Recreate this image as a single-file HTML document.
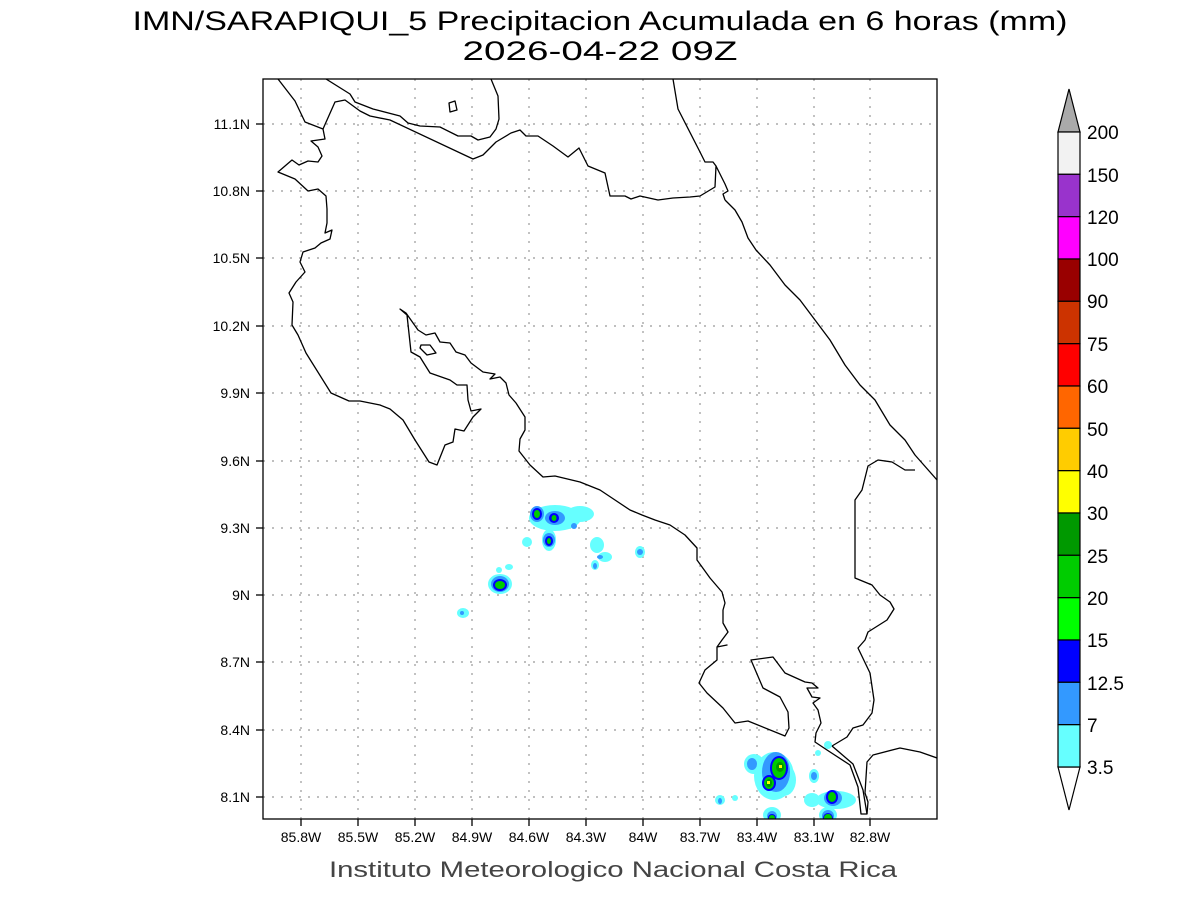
<!DOCTYPE html>
<html><head><meta charset="utf-8"><style>
html,body{margin:0;padding:0;background:#fff;}
svg{display:block;font-family:"Liberation Sans",sans-serif;}
</style></head><body>
<svg width="1200" height="900" viewBox="0 0 1200 900" xmlns="http://www.w3.org/2000/svg">
<rect width="1200" height="900" fill="#fff"/>
<text x="600" y="30" text-anchor="middle" font-size="27" fill="#000" textLength="935" lengthAdjust="spacingAndGlyphs">IMN/SARAPIQUI_5 Precipitacion Acumulada en 6 horas (mm)</text>
<text x="600" y="60" text-anchor="middle" font-size="27" fill="#000" textLength="275" lengthAdjust="spacingAndGlyphs">2026-04-22 09Z</text>
<clipPath id="c"><rect x="263" y="79" width="674" height="740"/></clipPath>
<g clip-path="url(#c)">
<g stroke="#999" stroke-width="1.2" stroke-dasharray="2,7">
<line x1="301" y1="79" x2="301" y2="819"/><line x1="358" y1="79" x2="358" y2="819"/><line x1="415" y1="79" x2="415" y2="819"/><line x1="472" y1="79" x2="472" y2="819"/><line x1="529" y1="79" x2="529" y2="819"/><line x1="586" y1="79" x2="586" y2="819"/><line x1="643" y1="79" x2="643" y2="819"/><line x1="700" y1="79" x2="700" y2="819"/><line x1="757" y1="79" x2="757" y2="819"/><line x1="814" y1="79" x2="814" y2="819"/><line x1="870" y1="79" x2="870" y2="819"/>
<line x1="263" y1="124" x2="937" y2="124"/><line x1="263" y1="191" x2="937" y2="191"/><line x1="263" y1="258" x2="937" y2="258"/><line x1="263" y1="326" x2="937" y2="326"/><line x1="263" y1="393" x2="937" y2="393"/><line x1="263" y1="461" x2="937" y2="461"/><line x1="263" y1="528" x2="937" y2="528"/><line x1="263" y1="595" x2="937" y2="595"/><line x1="263" y1="662" x2="937" y2="662"/><line x1="263" y1="730" x2="937" y2="730"/><line x1="263" y1="797" x2="937" y2="797"/>
</g>
<g fill="#66ffff">
<ellipse cx="555" cy="518" rx="26" ry="13"/><ellipse cx="580" cy="514" rx="14" ry="8"/><ellipse cx="549" cy="540" rx="7" ry="11"/><ellipse cx="527" cy="542" rx="5" ry="5"/>
<ellipse cx="597" cy="545" rx="7" ry="8"/><ellipse cx="605" cy="557" rx="7" ry="5"/><ellipse cx="595" cy="565" rx="4" ry="5"/><ellipse cx="640" cy="552" rx="5" ry="6"/>
<ellipse cx="500" cy="584" rx="12" ry="10"/><ellipse cx="509" cy="567" rx="4" ry="3"/><ellipse cx="499" cy="570" rx="3" ry="3"/><ellipse cx="463" cy="613" rx="6" ry="5"/>
<ellipse cx="774" cy="776" rx="20" ry="24"/><ellipse cx="754" cy="764" rx="10" ry="10"/><ellipse cx="814" cy="776" rx="5" ry="7"/><ellipse cx="812" cy="800" rx="8" ry="7"/><ellipse cx="836" cy="800" rx="20" ry="9"/>
<ellipse cx="784" cy="780" rx="12" ry="16"/><ellipse cx="772" cy="815" rx="9" ry="8"/><ellipse cx="720" cy="800" rx="5" ry="5"/><ellipse cx="735" cy="798" rx="3" ry="3"/><ellipse cx="828" cy="745" rx="4" ry="4"/><ellipse cx="818" cy="753" rx="3" ry="3"/><ellipse cx="828" cy="815" rx="9" ry="8"/>
</g>
<g fill="#3399ff">
<ellipse cx="537" cy="514" rx="7" ry="8"/><ellipse cx="555" cy="518" rx="10" ry="7"/><ellipse cx="549" cy="540" rx="6" ry="7"/><ellipse cx="574" cy="526" rx="3" ry="3"/><ellipse cx="600" cy="557" rx="3" ry="2"/><ellipse cx="595" cy="566" rx="2" ry="3"/><ellipse cx="640" cy="552" rx="3" ry="3"/>
<ellipse cx="500" cy="584" rx="9" ry="8"/><ellipse cx="462" cy="613" rx="2" ry="2"/>
<ellipse cx="776" cy="772" rx="14" ry="20"/><ellipse cx="752" cy="764" rx="5" ry="6"/><ellipse cx="814" cy="776" rx="3" ry="4"/><ellipse cx="833" cy="798" rx="9" ry="8"/><ellipse cx="772" cy="816" rx="5" ry="5"/><ellipse cx="828" cy="816" rx="6" ry="6"/><ellipse cx="720" cy="801" rx="2" ry="3"/>
</g>
<g fill="#0000ff">
<ellipse cx="537" cy="514" rx="5" ry="6"/><ellipse cx="554" cy="518" rx="5" ry="5"/><ellipse cx="549" cy="541" rx="4" ry="5"/><ellipse cx="500" cy="585" rx="7" ry="6"/>
<ellipse cx="779" cy="768" rx="9" ry="12"/><ellipse cx="769" cy="783" rx="7" ry="8"/><ellipse cx="832" cy="797" rx="6" ry="7"/><ellipse cx="772" cy="818" rx="4" ry="4"/><ellipse cx="828" cy="818" rx="5" ry="5"/>
</g>
<g fill="#00cc00">
<ellipse cx="537" cy="514" rx="3" ry="4"/><ellipse cx="554" cy="518" rx="2.5" ry="3"/><ellipse cx="549" cy="541" rx="2" ry="3"/><ellipse cx="500" cy="585" rx="5" ry="4"/>
<ellipse cx="779" cy="768" rx="7" ry="10"/><ellipse cx="769" cy="783" rx="5" ry="6"/><ellipse cx="832" cy="797" rx="4" ry="5"/><ellipse cx="772" cy="818" rx="3" ry="3"/><ellipse cx="828" cy="818" rx="4" ry="4"/>
</g>
<g fill="#009900"><ellipse cx="780" cy="767" rx="4" ry="5"/><ellipse cx="769" cy="783" rx="3" ry="4"/></g>
<g fill="#ffff00"><rect x="779" y="765" width="3" height="3"/><rect x="767" y="781" width="3" height="3"/></g>
<g fill="none" stroke="#000" stroke-width="1.3" stroke-linejoin="round">
<!-- Pacific coast north -->
<polyline points="278,79 295,101 305,122 323,129 325,139 311,141 318,147 322,156 318,162 308,161 299,165 292,160 278,172 295,179 308,191 318,189 326,196 327,209 327,223 325,233 332,230 330,239 321,243 315,248 303,252 300,262 305,272 296,282 289,293 293,302 292,325 298,335 306,353 331,393 349,401 360,401 380,405 390,409 403,420 415,440 429,462 437,465 445,445 453,442 455,429 464,431 473,417 481,409 471,411 468,400 467,385 457,385 450,380 430,373 420,357 411,352 407,315 400,309 406,313 418,330 426,335 435,333 440,342 450,343 456,352 465,355 471,363 483,372 495,374 490,379 500,377 506,383 509,395 516,403 525,417 525,430 520,439 519,451 530,465 543,477 555,476 580,482 600,490 615,500 630,510 642,515 655,520 670,525 685,535 697,548 697,560 710,578 722,592 725,603 723,610 723,623 728,632 722,640 717,647 727,645 717,647 717,660 705,670 699,683 707,693 723,708 735,723 748,721 785,736 789,728 788,712 780,697 763,688 751,660 773,657 785,673 805,682 812,683 818,688 807,688 812,697 820,698 813,703 818,710 821,723 816,733 815,742 827,750 850,765 858,787 861,814 867,814 868,802 865,793 867,762 873,755 900,748 920,752 937,758"/>
<polyline points="832,746 853,764 863,790 867,814"/>
<!-- lake nicaragua -->
<polyline points="326,79 350,94 355,102 373,109 400,116 408,123 420,126 440,127 458,136 471,136 478,140 490,137 496,129 499,119 498,96 491,79"/>
<!-- border -->
<polyline points="323,129 335,102 345,100 360,111 370,116 390,120 473,159 483,155 496,142 511,133 520,130 526,136 538,136 553,146 568,157 579,148 588,166 605,173 610,196 625,196 631,199 640,196 658,200 673,198 690,197 700,196 715,187 716,166 713,162 705,162 700,152 678,109 673,79"/>
<polyline points="716,166 725,184 728,191 723,194 725,200"/>
<!-- caribbean coast -->
<polyline points="725,200 735,210 742,222 748,238 756,250 770,265 785,285 800,300 815,320 830,340 845,365 860,385 875,400 890,425 905,440 915,455 937,480"/>
<!-- panama border -->
<polyline points="915,470 905,470 892,462 878,460 868,466 862,490 855,500 855,578 872,585 880,595 890,602 894,609 887,620 868,632 865,640 858,648 870,673 874,700 872,713 863,725 853,728 847,737 832,746"/>
<polygon points="449,103 455,101 457,110 450,112"/>
<polygon points="421,345 430,345 436,353 427,355 420,348"/>
</g>
</g>
<rect x="263" y="79" width="674" height="740" fill="none" stroke="#000" stroke-width="1.3"/>
<g stroke="#000" stroke-width="1.3">
<line x1="301" y1="819" x2="301" y2="826"/><line x1="358" y1="819" x2="358" y2="826"/><line x1="415" y1="819" x2="415" y2="826"/><line x1="472" y1="819" x2="472" y2="826"/><line x1="529" y1="819" x2="529" y2="826"/><line x1="586" y1="819" x2="586" y2="826"/><line x1="643" y1="819" x2="643" y2="826"/><line x1="700" y1="819" x2="700" y2="826"/><line x1="757" y1="819" x2="757" y2="826"/><line x1="814" y1="819" x2="814" y2="826"/><line x1="870" y1="819" x2="870" y2="826"/>
<line x1="256" y1="124" x2="263" y2="124"/><line x1="256" y1="191" x2="263" y2="191"/><line x1="256" y1="258" x2="263" y2="258"/><line x1="256" y1="326" x2="263" y2="326"/><line x1="256" y1="393" x2="263" y2="393"/><line x1="256" y1="461" x2="263" y2="461"/><line x1="256" y1="528" x2="263" y2="528"/><line x1="256" y1="595" x2="263" y2="595"/><line x1="256" y1="662" x2="263" y2="662"/><line x1="256" y1="730" x2="263" y2="730"/><line x1="256" y1="797" x2="263" y2="797"/>
</g>
<g font-size="14" fill="#000" text-anchor="middle">
<text x="301" y="842">85.8W</text><text x="358" y="842">85.5W</text><text x="415" y="842">85.2W</text><text x="472" y="842">84.9W</text><text x="529" y="842">84.6W</text><text x="586" y="842">84.3W</text><text x="643" y="842">84W</text><text x="700" y="842">83.7W</text><text x="757" y="842">83.4W</text><text x="814" y="842">83.1W</text><text x="870" y="842">82.8W</text>
</g>
<g font-size="14" fill="#000" text-anchor="end">
<text x="250" y="129">11.1N</text><text x="250" y="196">10.8N</text><text x="250" y="263">10.5N</text><text x="250" y="331">10.2N</text><text x="250" y="398">9.9N</text><text x="250" y="466">9.6N</text><text x="250" y="533">9.3N</text><text x="250" y="600">9N</text><text x="250" y="667">8.7N</text><text x="250" y="735">8.4N</text><text x="250" y="802">8.1N</text>
</g>
<text x="613" y="877" text-anchor="middle" font-size="22" fill="#444" textLength="568" lengthAdjust="spacingAndGlyphs">Instituto Meteorologico Nacional Costa Rica</text>
<g stroke="#000" stroke-width="1.2">
<polygon points="1058,132 1080,132 1069,89" fill="#aaaaaa"/>
<polygon points="1058,767 1080,767 1069,810" fill="#fff"/>
<rect x="1058" y="132" width="22" height="42.3" fill="#f2f2f2"/>
<rect x="1058" y="174.3" width="22" height="42.3" fill="#9933cc"/>
<rect x="1058" y="216.7" width="22" height="42.3" fill="#ff00ff"/>
<rect x="1058" y="259" width="22" height="42.3" fill="#990000"/>
<rect x="1058" y="301.3" width="22" height="42.3" fill="#cc3300"/>
<rect x="1058" y="343.7" width="22" height="42.3" fill="#ff0000"/>
<rect x="1058" y="386" width="22" height="42.3" fill="#ff6600"/>
<rect x="1058" y="428.3" width="22" height="42.3" fill="#ffcc00"/>
<rect x="1058" y="470.7" width="22" height="42.3" fill="#ffff00"/>
<rect x="1058" y="513" width="22" height="42.3" fill="#009900"/>
<rect x="1058" y="555.3" width="22" height="42.3" fill="#00cc00"/>
<rect x="1058" y="597.7" width="22" height="42.3" fill="#00ff00"/>
<rect x="1058" y="640" width="22" height="42.3" fill="#0000ff"/>
<rect x="1058" y="682.3" width="22" height="42.3" fill="#3399ff"/>
<rect x="1058" y="724.7" width="22" height="42.3" fill="#66ffff"/>
</g>
<g font-size="19" fill="#000">
<text x="1087" y="139">200</text><text x="1087" y="182">150</text><text x="1087" y="224">120</text><text x="1087" y="266">100</text><text x="1087" y="308">90</text><text x="1087" y="351">75</text><text x="1087" y="393">60</text><text x="1087" y="436">50</text><text x="1087" y="478">40</text><text x="1087" y="520">30</text><text x="1087" y="563">25</text><text x="1087" y="605">20</text><text x="1087" y="647">15</text><text x="1087" y="690">12.5</text><text x="1087" y="732">7</text><text x="1087" y="774">3.5</text>
</g>
</svg>
</body></html>
